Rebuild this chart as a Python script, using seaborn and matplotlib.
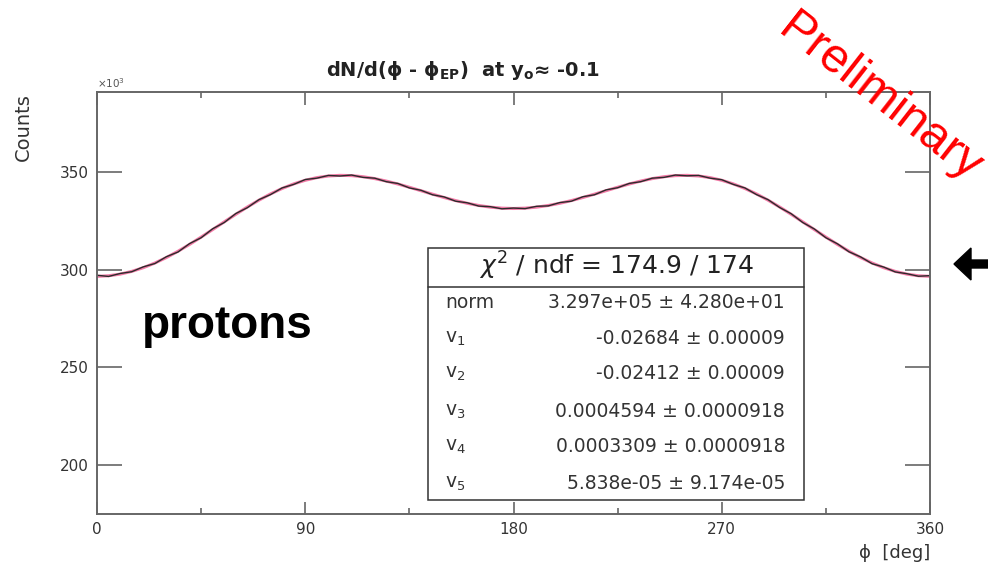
import numpy as np
import pandas as pd
import matplotlib
matplotlib.use("Agg")
import matplotlib.pyplot as plt
from matplotlib.patches import Rectangle, FancyArrow
from matplotlib.lines import Line2D
import seaborn as sns

# ---------------- data ----------------
phi_deg = [0, 5, 10, 15, 20, 25, 30, 35, 40, 45, 50, 55, 60, 65, 70, 75, 80, 85, 90,
           95, 100, 105, 110, 115, 120, 125, 130, 135, 140, 145, 150, 155, 160, 165, 170, 175, 180,
           185, 190, 195, 200, 205, 210, 215, 220, 225, 230, 235, 240, 245, 250, 255, 260, 265, 270,
           275, 280, 285, 290, 295, 300, 305, 310, 315, 320, 325, 330, 335, 340, 345, 350, 355, 360]

hist_counts = [297.2, 296.6, 298.1, 299.0, 301.5, 303.2, 306.7, 309.1, 313.4, 316.4, 321.0, 324.2,
               328.8, 331.8, 335.9, 338.5, 341.9, 343.7, 346.2, 346.9, 348.3, 348.0, 348.5, 347.3,
               346.9, 345.1, 344.2, 341.9, 340.7, 338.4, 337.3, 335.1, 334.3, 332.6, 332.3, 331.2,
               331.6, 331.3, 332.5, 332.7, 334.4, 335.1, 337.4, 338.4, 340.9, 342.0, 344.2, 345.1,
               346.9, 347.3, 348.5, 348.1, 348.3, 346.9, 346.1, 343.7, 341.9, 338.5, 335.9, 331.9,
               328.7, 324.2, 320.9, 316.4, 313.3, 309.2, 306.6, 303.1, 301.4, 298.9, 298.0, 296.7, 297.0]

fit_counts = [296.65, 296.94, 297.78, 299.17, 301.07, 303.45, 306.28, 309.48, 312.99, 316.73, 320.60,
              324.53, 328.41, 332.15, 335.64, 338.83, 341.62, 343.96, 345.82, 347.17, 348.01, 348.34,
              348.20, 347.63, 346.68, 345.41, 343.91, 342.24, 340.48, 338.71, 337.00, 335.42, 334.04,
              332.91, 332.06, 331.55, 331.37, 331.55, 332.06, 332.91, 334.04, 335.42, 337.00, 338.71,
              340.48, 342.24, 343.91, 345.41, 346.68, 347.63, 348.20, 348.34, 348.01, 347.17, 345.82,
              343.96, 341.62, 338.83, 335.64, 332.15, 328.41, 324.53, 320.60, 316.73, 312.99, 309.48,
              306.28, 303.45, 301.07, 299.17, 297.78, 296.94, 296.65]

x_ticks = [0, 90, 180, 270, 360]
x_minor = [45, 135, 225, 315]
y_ticks = [200, 250, 300, 350]

stat_header = r"$\chi^2$ / ndf = 174.9 / 174"
par_names = ["norm", r"v$_1$", r"v$_2$", r"v$_3$", r"v$_4$", r"v$_5$"]
par_values = ["3.297e+05 \u00b1 4.280e+01", "-0.02684 \u00b1 0.00009", "-0.02412 \u00b1 0.00009",
              "0.0004594 \u00b1 0.0000918", "0.0003309 \u00b1 0.0000918", "5.838e-05 \u00b1 9.174e-05"]

# ---------------- style ----------------
sns.set_style("ticks")
plt.rcParams["font.family"] = ["DejaVu Sans"]
plt.rcParams["mathtext.fontset"] = "dejavusans"

W, H = 988, 566
fig = plt.figure(figsize=(W / 100, H / 100), dpi=100)
fig.patch.set_facecolor("white")

def fx(px):
    return px / W

def fy(py):
    return 1 - py / H

ax = fig.add_axes([fx(97), fy(514), fx(930) - fx(97), fy(92) - fy(514)])

df_hist = pd.DataFrame({"phi": phi_deg, "counts": hist_counts})
df_fit = pd.DataFrame({"phi": phi_deg, "counts": fit_counts})

sns.lineplot(data=df_fit, x="phi", y="counts", color="#f27aa6", lw=2.2, ax=ax)
sns.lineplot(data=df_hist, x="phi", y="counts", color="#2b2b2b", lw=1.0, ax=ax)

ax.set_xlim(0, 360)
ax.set_ylim(175, 391)
ax.set_xticks(x_ticks)
ax.set_xticks(x_minor, minor=True)
ax.set_yticks(y_ticks)
ax.set_xticklabels([str(v) for v in x_ticks])
ax.set_yticklabels([str(v) for v in y_ticks])
ax.set_xlabel("")
ax.set_ylabel("")

for s in ax.spines.values():
    s.set_visible(True)
    s.set_color("#666666")
    s.set_linewidth(1.4)

ax.tick_params(axis="x", which="major", direction="in", length=9, width=1.2, top=True,
               color="#666666", labelcolor="#333333", labelsize=11, pad=6)
ax.tick_params(axis="x", which="minor", direction="in", length=4.5, width=1.2, top=True,
               color="#666666")
ax.tick_params(axis="y", which="major", direction="in", length=18, width=1.2, right=True,
               color="#666666", labelcolor="#333333", labelsize=11, pad=6)
ax.tick_params(axis="y", which="minor", left=False, right=False)

# ---------------- stat box ----------------
bx0, bx1, by0, by1, bsep = 0.397, 0.849, 0.033, 0.630, 0.538
ax.add_patch(Rectangle((bx0, by0), bx1 - bx0, by1 - by0, transform=ax.transAxes,
                       facecolor="white", edgecolor="#333333", lw=1.1, zorder=5))
ax.add_line(Line2D([bx0, bx1], [bsep, bsep], transform=ax.transAxes, color="#333333",
                   lw=1.1, zorder=6))
ax.text((bx0 + bx1) / 2, 0.588, stat_header, transform=ax.transAxes, ha="center",
        va="center", fontsize=18, color="#222222", zorder=7)
row_y = [0.502, 0.417, 0.334, 0.244, 0.159, 0.073]
for name, val, yy in zip(par_names, par_values, row_y):
    ax.text(0.418, yy, name, transform=ax.transAxes, ha="left", va="center",
            fontsize=13.5, color="#333333", zorder=7)
    ax.text(0.826, yy, val, transform=ax.transAxes, ha="right", va="center",
            fontsize=13.5, color="#333333", zorder=7)

# ---------------- figure texts ----------------
fig.text(fx(463), fy(70),
         "dN/d(\u03d5 - \u03d5$_{\\mathbf{EP}}$)  at y$_{\\mathbf{o}}$\u2248 -0.1",
         ha="center", va="center", fontsize=14, fontweight="bold", color="#222222")
fig.text(fx(97), fy(90), r"$\times$10$^3$", ha="left", va="bottom", fontsize=7.5, color="#555555")
fig.text(fx(23), fy(93), "Counts", rotation=90, ha="center", va="top", fontsize=14, color="#333333")
fig.text(fx(930), fy(553), "\u03d5  [deg]", ha="right", va="center", fontsize=13, color="#333333")

fig.text(fx(227), fy(338), "protons", ha="center", va="baseline", fontsize=33,
         fontweight="bold", family=["Liberation Sans", "DejaVu Sans"], color="black")
fig.text(fx(880), fy(98), "Preliminary", ha="center", va="center", rotation=-38,
         rotation_mode="anchor", fontsize=35, family=["Liberation Sans", "DejaVu Sans"],
         color="#ff0000")

arrow = FancyArrow(9.90, (H - 264) / 100, -0.36, 0, width=0.08, head_width=0.32,
                   head_length=0.17, length_includes_head=True, color="black",
                   transform=fig.dpi_scale_trans)
fig.add_artist(arrow)

fig.savefig("out.png", dpi=100, facecolor="white")
